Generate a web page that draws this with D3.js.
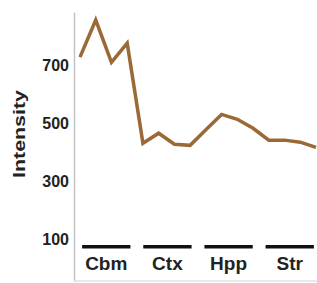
<!DOCTYPE html>
<html>
<head>
<meta charset="utf-8">
<script src="https://cdn.jsdelivr.net/npm/d3@7"></script>
<style>
  body { margin: 0; background: #fff; }
  text { font-family: Arial, "Liberation Sans", sans-serif; fill: #222; }
  .y-axis text { font-size: 16px; font-weight: bold; }
  .grp-label { font-size: 19px; font-weight: bold; }
  .axis-label { font-size: 17px; font-weight: bold; }
</style>
</head>
<body>
<svg id="chart" width="317" height="283"></svg>
<script>
// data
const groups = ["Cbm", "Ctx", "Hpp", "Str"];
const intensity = [729, 857, 711, 777, 431, 466, 428, 424, 478, 531, 514, 483, 442, 442, 435, 417];
const yTicks = [100, 300, 500, 700];

const svg = d3.select("#chart");
const width = 317, height = 283;
const axisX = 74;

const yScale = d3.scaleLinear()
    .domain([-45, 885])
    .range([281, 12]);

const xScale = d3.scaleLinear()
    .domain([0, intensity.length - 1])
    .range([80, 316]);

const groupScale = d3.scaleBand()
    .domain(groups)
    .range([76, 320])
    .paddingInner(0.21)
    .paddingOuter(0.1);

// y axis
const yAxis = d3.axisLeft(yScale)
    .tickValues(yTicks)
    .tickSize(0)
    .tickSizeOuter(0)
    .tickPadding(5);
const yAxisG = svg.append("g")
    .attr("class", "y-axis")
    .attr("transform", `translate(${axisX},0)`)
    .call(yAxis);
yAxisG.select(".domain")
    .attr("stroke", "#c4c4c4")
    .attr("stroke-width", 1.5);
yAxisG.selectAll("text").attr("fill", "#222");

// faint bottom line
svg.append("line")
    .attr("x1", axisX).attr("x2", width)
    .attr("y1", yScale(-45)).attr("y2", yScale(-45))
    .attr("stroke", "#e2e2e2")
    .attr("stroke-width", 1.5);

svg.append("text")
    .attr("class", "axis-label")
    .attr("transform", `translate(25, ${134}) rotate(-90)`)
    .attr("text-anchor", "middle")
    .attr("textLength", 88)
    .attr("lengthAdjust", "spacingAndGlyphs")
    .text("Intensity");

// group bars + labels
svg.selectAll(".grp-bar").data(groups)
    .enter().append("rect")
    .attr("class", "grp-bar")
    .attr("x", d => groupScale(d))
    .attr("y", 245)
    .attr("width", groupScale.bandwidth())
    .attr("height", 3.5)
    .attr("fill", "#111");

svg.selectAll(".grp-label").data(groups)
    .enter().append("text")
    .attr("class", "grp-label")
    .attr("x", d => groupScale(d) + groupScale.bandwidth() / 2)
    .attr("y", 270)
    .attr("text-anchor", "middle")
    .text(d => d);

// line
const lineGen = d3.line()
    .x((d, i) => xScale(i))
    .y(d => yScale(d));
svg.append("path")
    .attr("d", lineGen(intensity))
    .attr("fill", "none")
    .attr("stroke", "#9a6936")
    .attr("stroke-width", 3.5)
    .attr("stroke-linejoin", "miter");
</script>
</body>
</html>
